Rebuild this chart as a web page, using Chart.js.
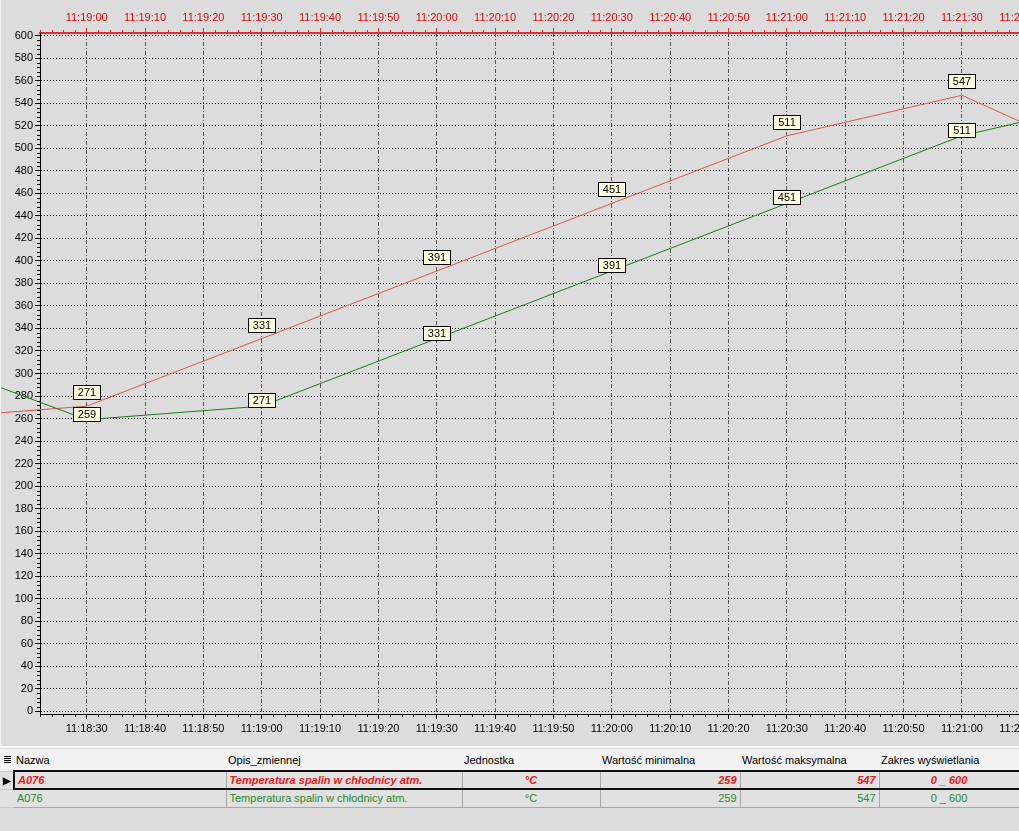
<!DOCTYPE html>
<html>
<head>
<meta charset="utf-8">
<script src="https://cdn.jsdelivr.net/npm/chart.js@4/dist/chart.umd.min.js"></script>
<style>
html,body{margin:0;padding:0;background:#dcdcdc;overflow:hidden;width:1019px;height:831px;font-family:"Liberation Sans",Arial,sans-serif;}
#wrap{position:absolute;left:0;top:0;width:1019px;height:745px;overflow:hidden;}
#cv{position:absolute;left:0;top:0;}
#edgeL{position:absolute;left:0;top:0;width:1px;height:745px;background:#f4f4f4;}
#sep{position:absolute;left:0;top:746px;width:1019px;height:2px;background:#f8f8f8;}
#tbl{position:absolute;left:0;top:749px;width:1019px;border-collapse:collapse;table-layout:fixed;font-size:11px;}
#tbl td{padding:0 3px;white-space:nowrap;overflow:hidden;box-sizing:border-box;}
#tbl tr.hd td{height:22px;background:#f2f2f2;color:#000;padding-left:2px;}
#tbl tr.r1 td,#tbl tr.r2 td{height:18px;background:#e1e1e1;border-right:1px solid #a8a8a8;}
#tbl tr.r1 td{color:#e02020;font-weight:bold;font-style:italic;border-top:2px solid #111;border-bottom:2px solid #111;}
#tbl tr.r2 td{color:#2a8a2a;border-bottom:1px solid #a8a8a8;}
#tbl tr.r1 td.first{border-left:2px solid #111;}
#tbl td.ic{padding:0;text-align:center;font-size:10px;color:#000 !important;font-style:normal !important;background:#e8e8e8;border-top:none !important;border-bottom:1px solid #c8c8c8 !important;border-right:none !important;}
#tbl tr.hd td.ic{background:#f2f2f2;font-size:11px;padding:0;}
#tbl td.c{text-align:center;}
#tbl td.r{text-align:right;}
</style>
</head>
<body>
<div id="wrap"><canvas id="cv" width="1120" height="745"></canvas><div id="edgeL"></div></div>
<div id="sep"></div>
<table id="tbl">
<colgroup><col style="width:14px"><col style="width:212px"><col style="width:236px"><col style="width:138px"><col style="width:140px"><col style="width:139px"><col style="width:140px"></colgroup>
<tr class="hd"><td class="ic">&#8803;</td><td>Nazwa</td><td>Opis_zmiennej</td><td>Jednostka</td><td>Wartość minimalna</td><td>Wartość maksymalna</td><td>Zakres wyświetlania</td></tr>
<tr class="r1"><td class="ic">&#9654;</td><td class="first">A076</td><td>Temperatura spalin w chłodnicy atm.</td><td class="c">°C</td><td class="r">259</td><td class="r">547</td><td class="c">0 _ 600</td></tr>
<tr class="r2"><td class="ic"></td><td>A076</td><td>Temperatura spalin w chłodnicy atm.</td><td class="c">°C</td><td class="r">259</td><td class="r">547</td><td class="c">0 _ 600</td></tr>
</table>
<script>
// ---- data ----
const greenTimes  = ['11:18:00','11:18:30','11:19:00','11:19:30','11:20:00','11:20:30','11:21:00','11:21:30','11:22:00'];
const greenValues = [317, 259, 271, 331, 391, 451, 511, 547, 477];
const redTimes    = ['11:18:00','11:18:30','11:19:00','11:19:30','11:20:00','11:20:30','11:21:00','11:21:30','11:22:00'];
const redValues   = [317, 259, 271, 331, 391, 451, 511, 547, 477];
const yTickValues = [0,20,40,60,80,100,120,140,160,180,200,220,240,260,280,300,320,340,360,380,400,420,440,460,480,500,520,540,560,580,600];
const bottomStart = '11:18:22';
const topOffsetSeconds = 30;

// ---- helpers ----
const toSec = s => { const p = s.split(':').map(Number); return p[0]*3600 + p[1]*60 + p[2]; };
const fmt = v => { v = Math.round(v); const h = Math.floor(v/3600), m = Math.floor((v%3600)/60), s = v%60;
  return h + ':' + String(m).padStart(2,'0') + ':' + String(s).padStart(2,'0'); };
const xMin = toSec(bottomStart);
const xMax = xMin + 185.1;
const FONT = {family: '"Liberation Sans", Arial, sans-serif', size: 11};
const RED_TXT = '#d80c0c';
const RED_LINE = '#d65a50';
const GREEN_LINE = '#1e7b1e';

function timeTicks(scale){
  const t = [];
  for (let v = Math.ceil(scale.min/10)*10; v <= scale.max; v += 10) t.push({value: v});
  scale.ticks = t;
}

const minorTicks = {
  id: 'minorTicks',
  afterDraw(chart){
    const ctx = chart.ctx; const {x, x2, y} = chart.scales;
    ctx.save(); ctx.lineWidth = 1;
    ctx.strokeStyle = '#000'; ctx.beginPath();
    for (let v = 0; v <= 600; v += 4){ if (v % 20 === 0) continue;
      const py = Math.round(y.getPixelForValue(v)) + 0.5; ctx.moveTo(y.right - 3, py); ctx.lineTo(y.right, py); }
    for (let t = Math.ceil(x.min/2)*2; t <= x.max; t += 2){ if (t % 10 === 0) continue;
      const px = Math.round(x.getPixelForValue(t)) + 0.5; ctx.moveTo(px, x.top); ctx.lineTo(px, x.top + 3); }
    ctx.stroke();
    ctx.strokeStyle = '#e03030'; ctx.beginPath();
    for (let t = Math.ceil(x2.min/2)*2; t <= x2.max; t += 2){ if (t % 10 === 0) continue;
      const px = Math.round(x2.getPixelForValue(t)) + 0.5; ctx.moveTo(px, x2.bottom); ctx.lineTo(px, x2.bottom - 3); }
    ctx.stroke();
    ctx.restore();
  }
};

const valueLabels = {
  id: 'valueLabels',
  afterDatasetsDraw(chart){
    const {ctx, chartArea} = chart;
    const offs = [-6, -14];
    ctx.save();
    ctx.font = '11px "Liberation Sans", Arial, sans-serif';
    ctx.textAlign = 'center'; ctx.textBaseline = 'middle';
    chart.data.datasets.forEach((ds, di) => {
      const meta = chart.getDatasetMeta(di);
      meta.data.forEach((pt, i) => {
        if (pt.x < chartArea.left || pt.x > 1019) return;
        const cx = Math.round(pt.x), cy = Math.round(pt.y + offs[di]);
        const w = 28, h = 15;
        ctx.fillStyle = '#ffffe1';
        ctx.fillRect(cx - w/2, cy - 7, w, h);
        ctx.strokeStyle = '#000'; ctx.lineWidth = 1;
        ctx.strokeRect(cx - w/2 + 0.5, cy - 7 + 0.5, w - 1, h - 1);
        ctx.fillStyle = '#000';
        ctx.fillText(String(ds.data[i].y), cx, cy + 1);
      });
    });
    ctx.restore();
  }
};

new Chart(document.getElementById('cv'), {
  type: 'line',
  data: {
    datasets: [
      { label: 'A076 (zielony)', data: greenTimes.map((t,i) => ({x: toSec(t), y: greenValues[i]})),
        xAxisID: 'x', yAxisID: 'y', borderColor: GREEN_LINE, borderWidth: 1, pointRadius: 0, tension: 0, clip: false },
      { label: 'A076 (czerwony)', data: redTimes.map((t,i) => ({x: toSec(t), y: redValues[i]})),
        xAxisID: 'x2', yAxisID: 'y', borderColor: RED_LINE, borderWidth: 1, pointRadius: 0, tension: 0, clip: false }
    ]
  },
  options: {
    responsive: false, animation: false, devicePixelRatio: 1,
    layout: {padding: 0, autoPadding: false},
    plugins: {legend: {display: false}, tooltip: {enabled: false}},
    scales: {
      x: { type: 'linear', position: 'bottom', min: xMin, max: xMax,
        afterBuildTicks: timeTicks, afterFit: s => { s.height = 31; },
        ticks: { callback: v => fmt(v), color: '#000', font: FONT, padding: 3, maxRotation: 0, autoSkip: false },
        grid: { color: '#555', lineWidth: 1, tickLength: 5, tickColor: '#000', tickBorderDash: [] },
        border: { color: '#000', width: 1, dash: [4, 2, 1, 2] } },
      x2: { type: 'linear', position: 'top', min: xMin + topOffsetSeconds, max: xMax + topOffsetSeconds,
        afterBuildTicks: timeTicks, afterFit: s => { s.height = 33; },
        ticks: { callback: v => fmt(v), color: RED_TXT, font: FONT, padding: 3, maxRotation: 0, autoSkip: false },
        grid: { drawOnChartArea: false, tickLength: 5, tickColor: '#e03030', tickBorderDash: [] },
        border: { color: '#e03030', width: 2 } },
      y: { type: 'linear', position: 'left', min: -2.3, max: 602.3,
        afterBuildTicks: s => { s.ticks = yTickValues.map(v => ({value: v})); },
        afterFit: s => { s.width = 40; },
        ticks: { color: '#000', font: FONT, padding: 2, autoSkip: false },
        grid: { color: '#000', lineWidth: 1, tickLength: 5, tickColor: '#000', tickBorderDash: [] },
        border: { color: '#000', width: 1, dash: [1, 2] } }
    }
  },
  plugins: [minorTicks, valueLabels]
});
</script>
</body>
</html>
